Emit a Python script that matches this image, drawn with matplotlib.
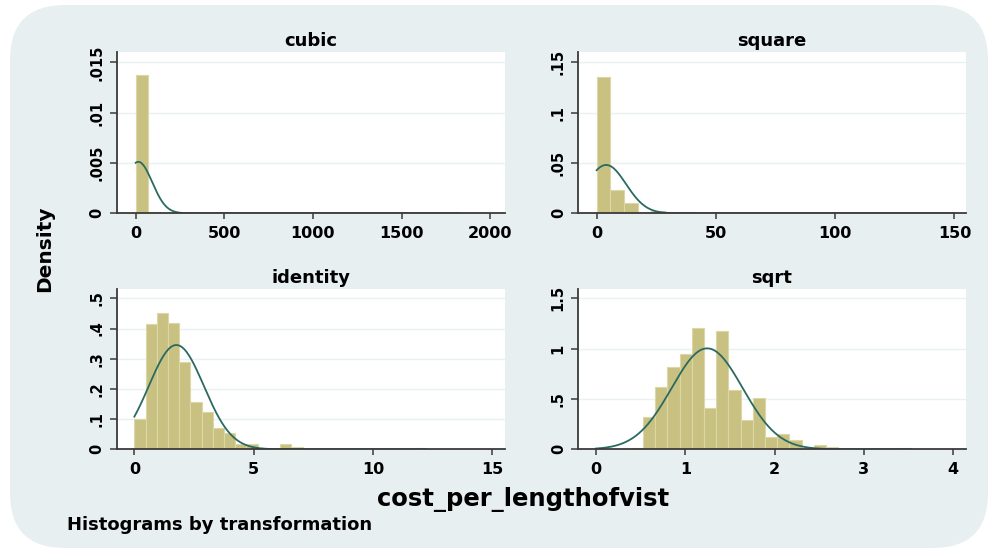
import numpy as np
import matplotlib
matplotlib.use("Agg")
import matplotlib.pyplot as plt
from matplotlib.patches import FancyBboxPatch
from matplotlib.transforms import IdentityTransform

plt.rcParams["font.family"] = ["DejaVu Sans"]
plt.rcParams["font.weight"] = "bold"

# ---- histogram data: density per bin, first bin edge, bin width ----
cubic_heights = [0.01377, 0.00015, 0.00005, 0.00005, 0, 0, 0, 0, 0, 0, 0, 0, 0,
                 0, 0, 0, 0, 0, 0, 0, 0, 0, 0, 0, 0, 0.00002]
cubic_start, cubic_width = 0.0, 70.3

square_heights = [0.1356, 0.0230, 0.0105, 0.0010, 0.0022, 0, 0.0012, 0, 0, 0, 0, 0, 0,
                  0, 0, 0, 0, 0, 0, 0, 0, 0, 0, 0, 0, 0.0003]
square_start, square_width = 0.0, 5.75

identity_heights = [0.100, 0.414, 0.450, 0.419, 0.288, 0.155, 0.124, 0.069, 0.054,
                    0.019, 0.019, 0, 0, 0.017, 0.008, 0, 0, 0, 0, 0, 0, 0, 0, 0, 0, 0.004]
identity_start, identity_width = 0.0, 0.47

sqrt_heights = [0.017, 0.321, 0.616, 0.815, 0.947, 1.202, 0.414, 1.179, 0.593, 0.288,
                0.510, 0.123, 0.155, 0.093, 0, 0.043, 0.020, 0, 0, 0, 0, 0, 0.010]
sqrt_start, sqrt_width = 0.39, 0.1366

# fitted normal density (mean, sd) for each transformation
cubic_normal = (15.0, 78.0)
square_normal = (4.0, 8.3)
identity_normal = (1.76, 1.155)
sqrt_normal = (1.245, 0.398)

panel_titles = ["cubic", "square", "identity", "sqrt"]

cubic_xticks = [0, 500, 1000, 1500, 2000]
cubic_yticks = [0, 0.005, 0.01, 0.015]
cubic_ylabels = ["0", ".005", ".01", ".015"]

square_xticks = [0, 50, 100, 150]
square_yticks = [0, 0.05, 0.1, 0.15]
square_ylabels = ["0", ".05", ".1", ".15"]

identity_xticks = [0, 5, 10, 15]
identity_yticks = [0, 0.1, 0.2, 0.3, 0.4, 0.5]
identity_ylabels = ["0", ".1", ".2", ".3", ".4", ".5"]

sqrt_xticks = [0, 1, 2, 3, 4]
sqrt_yticks = [0, 0.5, 1, 1.5]
sqrt_ylabels = ["0", ".5", "1", "1.5"]

panels = [
    dict(title=panel_titles[0], h=cubic_heights, x0=cubic_start, w=cubic_width,
         norm=cubic_normal, xt=cubic_xticks, yt=cubic_yticks, yl=cubic_ylabels,
         xlim=(-107, 2084), ylim=(0, 0.016), pos=[0.1179, 0.6122, 0.3922, 0.2927]),
    dict(title=panel_titles[1], h=square_heights, x0=square_start, w=square_width,
         norm=square_normal, xt=square_xticks, yt=square_yticks, yl=square_ylabels,
         xlim=(-7.7, 154.7), ylim=(0, 0.16), pos=[0.5841, 0.6122, 0.3913, 0.2927]),
    dict(title=panel_titles[2], h=identity_heights, x0=identity_start, w=identity_width,
         norm=identity_normal, xt=identity_xticks, yt=identity_yticks, yl=identity_ylabels,
         xlim=(-0.74, 15.54), ylim=(0, 0.531), pos=[0.1179, 0.1831, 0.3922, 0.2915]),
    dict(title=panel_titles[3], h=sqrt_heights, x0=sqrt_start, w=sqrt_width,
         norm=sqrt_normal, xt=sqrt_xticks, yt=sqrt_yticks, yl=sqrt_ylabels,
         xlim=(-0.198, 4.139), ylim=(0, 1.592), pos=[0.5841, 0.1831, 0.3913, 0.2915]),
]

BG = "#e8eff1"
BAR = "#c9c181"
BAR_EDGE = "#dcd7a6"
CURVE = "#2b6a61"
AXIS = "#3a3a3a"
GRID = "#eaf1f3"

fig = plt.figure(figsize=(9.9, 5.5), dpi=100)
fig.patch.set_facecolor("white")

# rounded graph-region background, kept beneath the panels
fig.patches.append(FancyBboxPatch((10, 2), 978, 543,
                                  boxstyle="round,pad=0,rounding_size=55",
                                  transform=IdentityTransform(),
                                  facecolor=BG, edgecolor="none", zorder=-5))

for p in panels:
    ax = fig.add_axes(p["pos"])
    ax.set_zorder(1)
    ax.set_facecolor("white")
    h = np.array(p["h"])
    edges = p["x0"] + p["w"] * np.arange(len(h))
    ax.bar(edges, h, width=p["w"], align="edge", color=BAR,
           edgecolor=BAR_EDGE, linewidth=0.8, zorder=2)

    mu, sd = p["norm"]
    xs = np.linspace(0, edges[-1] + p["w"], 400)
    ys = np.exp(-0.5 * ((xs - mu) / sd) ** 2) / (sd * np.sqrt(2 * np.pi))
    ax.plot(xs, ys, color=CURVE, lw=1.3, zorder=3)

    ax.set_xlim(*p["xlim"])
    ax.set_ylim(*p["ylim"])
    ax.set_xticks(p["xt"])
    ax.set_xticklabels([str(t) for t in p["xt"]], fontsize=11.5, fontweight="bold")
    ax.set_yticks(p["yt"])
    ax.set_yticklabels(p["yl"], fontsize=10.5, fontweight="bold",
                       rotation=90, va="center")
    for y in p["yt"][1:]:
        ax.axhline(y, color=GRID, lw=1.0, zorder=1)

    for s in ("top", "right"):
        ax.spines[s].set_visible(False)
    for s in ("left", "bottom"):
        ax.spines[s].set_color(AXIS)
        ax.spines[s].set_linewidth(1.3)
        ax.spines[s].set_zorder(4)
    ax.tick_params(axis="x", direction="out", length=4, width=1.1,
                   color=AXIS, pad=5)
    ax.tick_params(axis="y", direction="out", length=5, width=1.1,
                   color=AXIS, pad=4)
    ax.set_title(p["title"], fontsize=13, fontweight="bold", pad=4.5)

fig.text(45 / 990, 1 - 249 / 550, "Density", rotation=90, ha="center",
         va="center", fontsize=14.5, fontweight="bold")
fig.text(523 / 990, 1 - 500 / 550, "cost_per_lengthofvist", ha="center",
         va="center", fontsize=17.5, fontweight="bold")
fig.text(66.7 / 990, 1 - 525 / 550, "Histograms by transformation", ha="left",
         va="center", fontsize=13, fontweight="bold")

fig.savefig("out.png", dpi=100, facecolor="white")
